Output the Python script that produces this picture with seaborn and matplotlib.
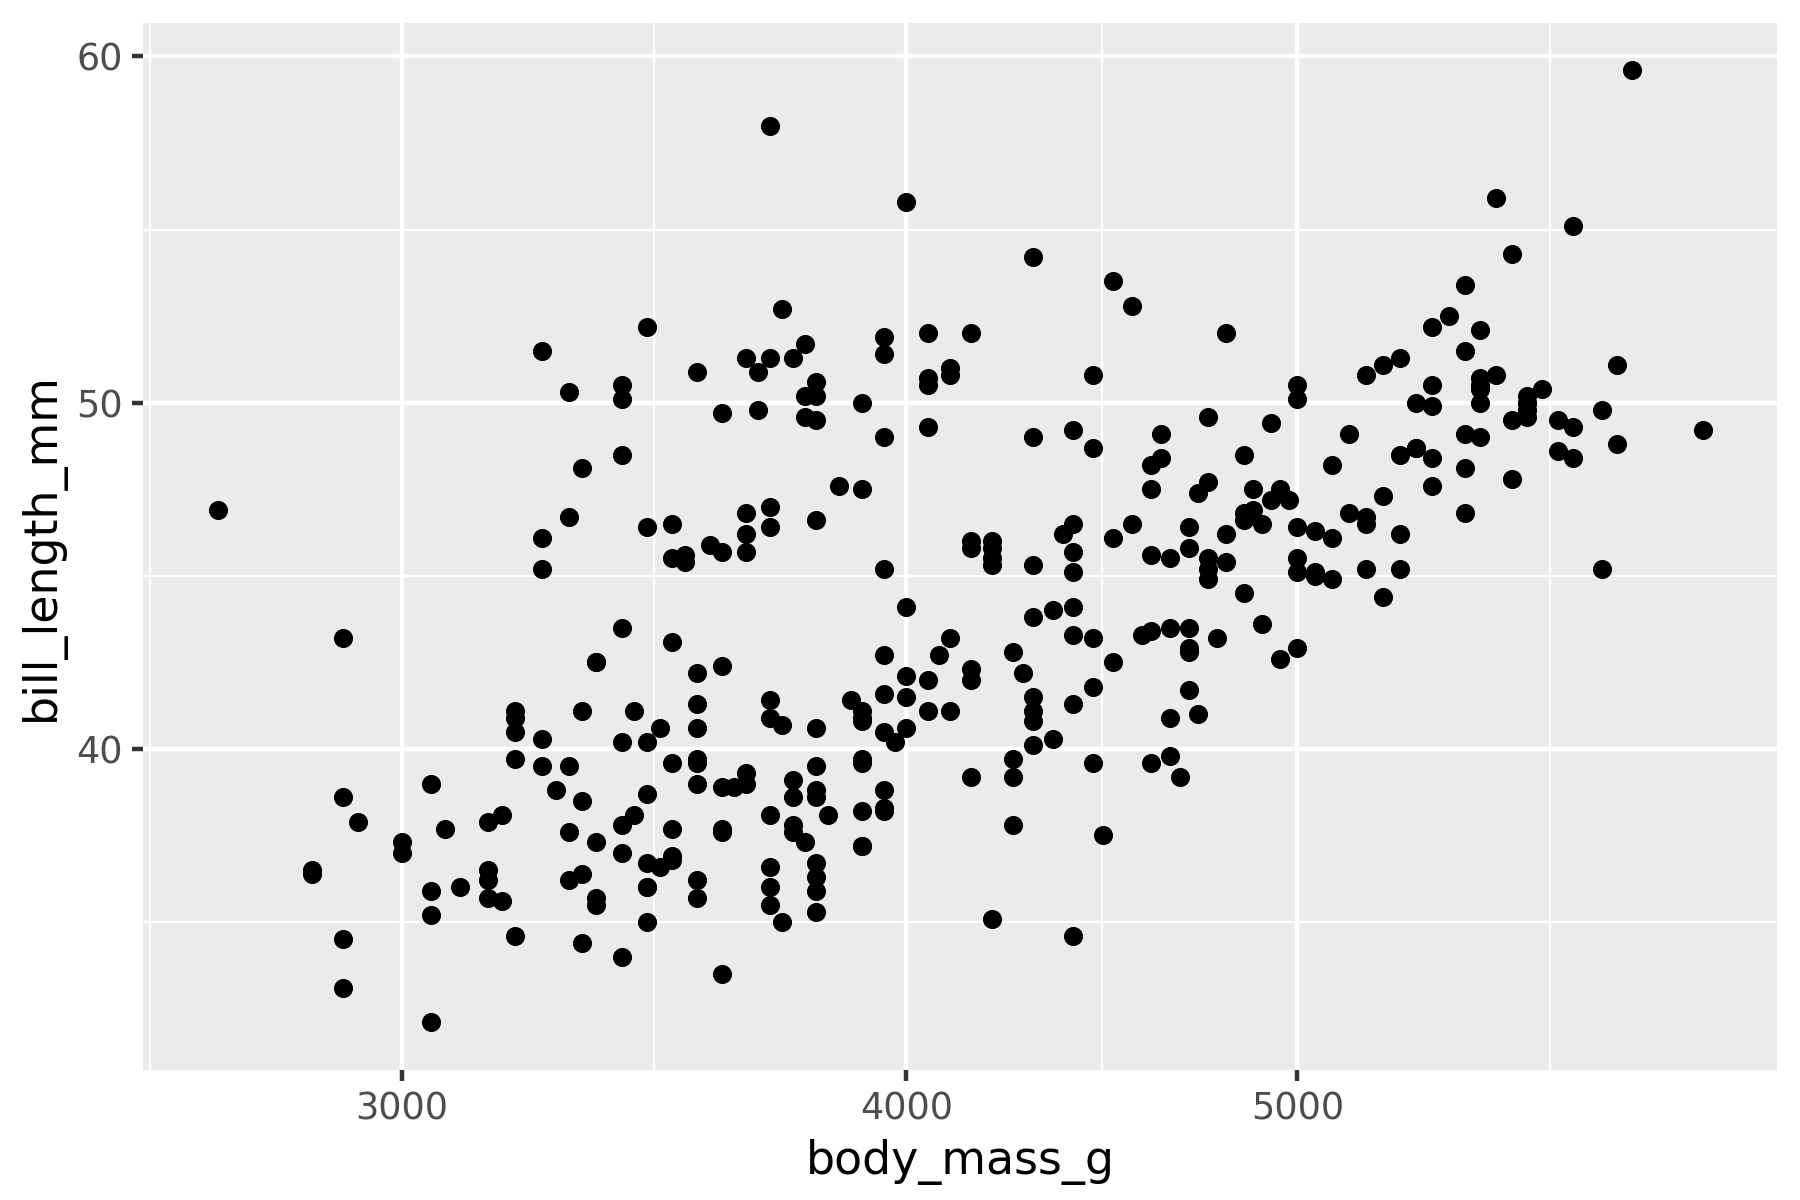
import numpy as np
import pandas as pd
import matplotlib
matplotlib.use('Agg')
import matplotlib.pyplot as plt
from matplotlib.ticker import NullFormatter
import seaborn as sns

# penguins (complete cases only): body mass (g) and bill length (mm)
body_mass_g = [
    # Adelie
    3750, 3800, 3250, 3450, 3650, 3625, 4675,
    3200, 3800, 4400, 3700, 3450, 4500, 3325, 4200, 3400,
    3600, 3800, 3950, 3800, 3800, 3550, 3200, 3150, 3950, 3250,
    3900, 3300, 3900, 3325, 4150, 3950, 3550, 3300, 4650, 3150,
    3900, 3100, 4400, 3000, 4600, 3425, 3450, 4150, 3500,
    4300, 3450, 4050, 2900, 3700, 3550, 3800, 2850, 3750, 3150,
    4400, 3600, 4050, 2850, 3950, 3350, 4100, 3050, 4450, 3600,
    3900, 3550, 4150, 3700, 4250, 3700, 3900, 3550, 4000, 3200,
    4700, 3800, 4200, 3350, 3550, 3800, 3500, 3950, 3600, 3550,
    4300, 3400, 4450, 3300, 4300, 3700, 4350, 2900, 4100, 3725,
    4725, 3075, 4250, 2925, 3550, 3750, 3900, 3175, 4775, 3825,
    4600, 3200, 4275, 3900, 4075, 2900, 3775, 3350, 3325, 3150,
    3500, 3450, 3875, 3050, 4000, 3275, 4300, 3050, 4000, 3325,
    3500, 3500, 4475, 3425, 3900, 3175, 3975, 3400, 4250, 3400,
    3475, 3050, 3725, 3000, 3650, 4250, 3475, 3450, 3750, 3700,
    4000,
    # Gentoo
    4500, 5700, 4450, 5700, 5400, 4550, 4800, 5200, 4400, 5150,
    4650, 5550, 4650, 5850, 4200, 5850, 4150, 6300, 4800, 5350,
    5700, 5000, 4400, 5050, 5000, 5100, 5650, 4600, 5550,
    5250, 4700, 5050, 6050, 5150, 5400, 4950, 5250, 4350, 5350,
    3950, 5700, 4300, 4750, 5550, 4900, 4200, 5400, 5100, 5300,
    4850, 5300, 4400, 5000, 4900, 5050, 4300, 5000, 4450, 5550,
    4200, 5300, 4400, 5650, 4700, 5700, 5800, 4700, 5550,
    4750, 5000, 5100, 5200, 4700, 5800, 4600, 6000, 4750, 5950,
    4625, 5450, 4725, 5350, 4750, 5600, 4600, 5300, 4875, 5550,
    4950, 5400, 4750, 5650, 4850, 5200, 4925, 4875, 4625, 5250,
    4850, 5600, 4975, 5500, 5500, 4700, 5500, 4575, 5500,
    5000, 5950, 4650, 5500, 4375, 5850, 6000, 4925, 4850,
    5750, 5200, 5400,
    # Chinstrap
    3500, 3900, 3650, 3525, 3725, 3950, 3250, 3750, 4150, 3700,
    3800, 3775, 3700, 4050, 3575, 4050, 3300, 3700, 3450, 4400,
    3600, 3400, 2900, 3800, 3300, 4150, 3400, 3800, 3700, 4550,
    3200, 4300, 3350, 4100, 3600, 3900, 3850, 4800, 2700, 4500,
    3950, 3650, 3550, 3500, 3675, 4450, 3400, 4300, 3250, 3675,
    3325, 3950, 3600, 4050, 3350, 3450, 3250, 4050, 3800, 3525,
    3950, 3650, 3650, 4000, 3400, 3775, 4100, 3775,
]

bill_length_mm = [
    # Adelie
    39.1, 39.5, 40.3, 36.7, 39.3, 38.9, 39.2,
    41.1, 38.6, 34.6, 36.6, 38.7, 42.5, 34.4, 46.0, 37.8,
    37.7, 35.9, 38.2, 38.8, 35.3, 40.6, 40.5, 37.9, 40.5, 39.5,
    37.2, 39.5, 40.9, 36.4, 39.2, 38.8, 42.2, 37.6, 39.8, 36.5,
    40.8, 36.0, 44.1, 37.0, 39.6, 41.1, 36.0, 42.3, 39.6,
    40.1, 35.0, 42.0, 34.5, 41.4, 39.0, 40.6, 36.5, 37.6, 35.7,
    41.3, 37.6, 41.1, 36.4, 41.6, 35.5, 41.1, 35.9, 41.8, 33.5,
    39.7, 39.6, 45.8, 35.5, 42.8, 40.9, 37.2, 36.2, 42.1, 34.6,
    42.9, 36.7, 35.1, 37.3, 41.3, 36.3, 36.9, 38.3, 38.9, 35.7,
    41.1, 34.0, 39.6, 36.2, 40.8, 38.1, 40.3, 33.1, 43.2, 35.0,
    41.0, 37.7, 37.8, 37.9, 39.7, 38.6, 38.2, 38.1, 43.2, 38.1,
    45.6, 39.7, 42.2, 39.6, 42.7, 38.6, 37.3, 35.7, 41.1, 36.2,
    37.7, 40.2, 41.4, 35.2, 40.6, 38.8, 41.5, 39.0, 44.1, 38.5,
    43.1, 36.8, 37.5, 38.1, 41.1, 35.6, 40.2, 37.0, 39.7, 40.2,
    40.6, 32.1, 40.7, 37.3, 39.0, 39.2, 36.6, 36.0, 37.8, 36.0,
    41.5,
    # Gentoo
    46.1, 50.0, 48.7, 50.0, 47.6, 46.5, 45.4, 46.7, 43.3, 46.8,
    40.9, 49.0, 45.5, 48.4, 45.8, 49.3, 42.0, 49.2, 46.2, 48.7,
    50.2, 45.1, 46.5, 46.3, 42.9, 46.1, 47.8, 48.2, 50.0,
    47.3, 42.8, 45.1, 59.6, 49.1, 48.4, 42.6, 44.4, 44.0, 48.7,
    42.7, 49.6, 45.3, 49.6, 50.5, 43.6, 45.5, 50.5, 44.9, 45.2,
    46.6, 48.5, 45.1, 50.1, 46.5, 45.0, 43.8, 45.5, 43.2, 50.4,
    45.3, 46.2, 45.7, 54.3, 45.8, 49.8, 49.5, 43.5, 50.7,
    47.7, 46.4, 48.2, 46.5, 46.4, 48.6, 47.5, 51.1, 45.2, 45.2,
    49.1, 52.5, 47.4, 50.0, 44.9, 50.8, 43.4, 51.3, 47.5, 52.1,
    47.5, 52.2, 45.5, 49.5, 44.5, 50.8, 49.4, 46.9, 48.4, 51.1,
    48.5, 55.9, 47.2, 49.1, 46.8, 41.7, 53.4, 43.3, 48.1,
    50.5, 49.8, 43.5, 51.5, 46.2, 55.1, 48.8, 47.2, 46.8,
    50.4, 45.2, 49.9,
    # Chinstrap
    46.5, 50.0, 51.3, 45.4, 52.7, 45.2, 46.1, 51.3, 46.0, 51.3,
    46.6, 51.7, 47.0, 52.0, 45.9, 50.5, 50.3, 58.0, 46.4, 49.2,
    42.4, 48.5, 43.2, 50.6, 46.7, 52.0, 50.5, 49.5, 46.4, 52.8,
    40.9, 54.2, 42.5, 51.0, 49.7, 47.5, 47.6, 52.0, 46.9, 53.5,
    49.0, 46.2, 50.9, 45.5, 50.9, 50.8, 50.1, 49.0, 51.5, 49.8,
    48.1, 51.4, 45.7, 50.7, 42.5, 52.2, 45.2, 49.3, 50.2, 45.6,
    51.9, 46.8, 45.7, 55.8, 43.5, 49.6, 50.8, 50.2,
]

x_breaks = [3000, 4000, 5000]
y_breaks = [40, 50, 60]


def minor_breaks(b):
    # midpoints between breaks, one step extended on each side (ggplot style)
    b = np.asarray(b, dtype=float)
    step = b[1] - b[0]
    b = np.concatenate([[b[0] - step], b, [b[-1] + step]])
    return (b[:-1] + b[1:]) / 2


df = pd.DataFrame({'body_mass_g': body_mass_g, 'bill_length_mm': bill_length_mm})

sns.set_style('darkgrid', rc={'axes.facecolor': '#EBEBEB', 'grid.color': 'white'})
plt.rcParams['font.family'] = ['DejaVu Sans']

fig, ax = plt.subplots(figsize=(6, 4), dpi=300)
fig.subplots_adjust(left=0.0796, right=0.9871, bottom=0.1083, top=0.9811)

sns.scatterplot(data=df, x='body_mass_g', y='bill_length_mm', color='black',
                s=21, linewidth=0, ax=ax, zorder=3)
ax.set_xscale('log')

# limits with 5% expansion (in log space for x)
lx = np.log10(df['body_mass_g'])
pad = (lx.max() - lx.min()) * 0.05
xlim = (10 ** (lx.min() - pad), 10 ** (lx.max() + pad))
ly = df['bill_length_mm']
pad = (ly.max() - ly.min()) * 0.05
ylim = (ly.min() - pad, ly.max() + pad)

x_minor = 10 ** minor_breaks(np.log10(x_breaks))
x_minor = x_minor[(x_minor > xlim[0]) & (x_minor < xlim[1])]
y_minor = minor_breaks(y_breaks)
y_minor = y_minor[(y_minor > ylim[0]) & (y_minor < ylim[1])]

ax.set_xticks(x_breaks, labels=[str(v) for v in x_breaks])
ax.set_xticks(x_minor, minor=True)
ax.xaxis.set_minor_formatter(NullFormatter())
ax.set_yticks(y_breaks, labels=[str(v) for v in y_breaks])
ax.set_yticks(y_minor, minor=True)
ax.yaxis.set_minor_formatter(NullFormatter())
ax.set_xlim(*xlim)
ax.set_ylim(*ylim)

ax.set_axisbelow(True)
ax.grid(which='major', color='white', linewidth=1.07)
ax.grid(which='minor', color='white', linewidth=0.53)
for s in ax.spines.values():
    s.set_visible(False)

ax.tick_params(which='major', bottom=True, left=True, length=2.75, width=1.07,
               color='#333333', labelcolor='#4D4D4D', labelsize=8.8, pad=2.2)
ax.tick_params(which='minor', bottom=False, left=False, length=0)

ax.set_xlabel('body_mass_g', fontsize=11, color='black', labelpad=2.75)
ax.set_ylabel('bill_length_mm', fontsize=11, color='black', labelpad=2.75)

fig.savefig('out.png', dpi=300)
